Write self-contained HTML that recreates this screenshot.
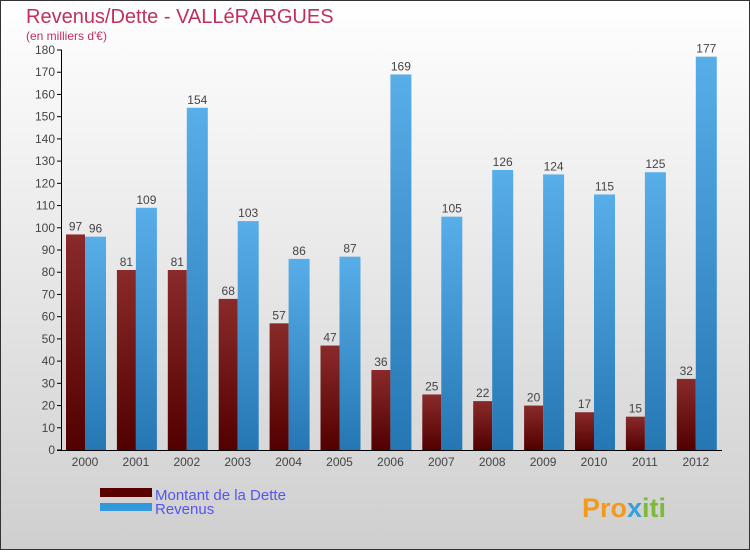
<!DOCTYPE html>
<html><head><meta charset="utf-8"><style>
html,body{margin:0;padding:0}
body{width:750px;height:550px;overflow:hidden;font-family:"Liberation Sans",sans-serif}
</style></head><body>
<svg width="750" height="550" xmlns="http://www.w3.org/2000/svg">
<defs>
<linearGradient id="bg" x1="0" y1="0" x2="0" y2="1"><stop offset="0" stop-color="#ffffff"/><stop offset="1" stop-color="#cfcfcf"/></linearGradient>
<linearGradient id="gd" x1="0" y1="0" x2="0" y2="1"><stop offset="0" stop-color="#8a2a2a"/><stop offset="1" stop-color="#520000"/></linearGradient>
<linearGradient id="gr" x1="0" y1="0" x2="0" y2="1"><stop offset="0" stop-color="#58aee8"/><stop offset="1" stop-color="#2577b4"/></linearGradient>
</defs>
<rect x="0.5" y="0.5" width="749" height="549" fill="url(#bg)" stroke="#333"/>
<text x="26" y="23" font-size="20" fill="#c0305a">Revenus/Dette - VALLéRARGUES</text>
<text x="26" y="40" font-size="12" fill="#c0305a">(en milliers d'€)</text>
<g id="plot"></g>
<rect x="100" y="488" width="52" height="9" fill="#5a0000"/>
<text x="155" y="500" font-size="15" fill="#5555ee">Montant de la Dette</text>
<rect x="100" y="503" width="52" height="8" fill="#3399dd"/>
<text x="155" y="514" font-size="15" fill="#5555ee">Revenus</text>
<text x="582" y="517" font-size="27" font-weight="bold" fill="#f39a1c">Pro<tspan fill="#3aa0d8">x</tspan><tspan fill="#7cba3a">iti</tspan></text>
</svg>
<script>
const years=["2000","2001","2002","2003","2004","2005","2006","2007","2008","2009","2010","2011","2012"];
const dette=[97,81,81,68,57,47,36,25,22,20,17,15,32];
const revenus=[96,109,154,103,86,87,169,105,126,124,115,125,177];
const yTicks=[0,10,20,30,40,50,60,70,80,90,100,110,120,130,140,150,160,170,180];
const NS="http://www.w3.org/2000/svg";
const g=document.getElementById('plot');
const y=v=>450-v*400/180;
const x=i=>85+i*50.9;
function mk(t,a,txt){const e=document.createElementNS(NS,t);for(const k in a)e.setAttribute(k,a[k]);if(txt!==undefined)e.textContent=txt;g.appendChild(e);return e;}
yTicks.forEach(t=>{
 const l=mk('line',{x1:57,x2:62,y1:y(t),y2:y(t),stroke:'#000'});
 
 
 const tx=mk('text',{x:55,y:y(t)+4,'font-size':12,'text-anchor':'end',fill:'#444'},t);
 
 
});
years.forEach((yr,i)=>{
 const c=x(i);
 const b1=mk('rect',{x:c-19,y:y(dette[i]),width:19,height:450-y(dette[i]),fill:'url(#gd)'});
 
 
 const b2=mk('rect',{x:c,y:y(revenus[i]),width:21,height:450-y(revenus[i]),fill:'url(#gr)'});
 
 
 const v1=mk('text',{x:c-9.5,y:y(dette[i])-4,'font-size':12,'text-anchor':'middle',fill:'#444'},dette[i]);
 
 
 const v2=mk('text',{x:c+10.5,y:y(revenus[i])-4,'font-size':12,'text-anchor':'middle',fill:'#444'},revenus[i]);
 
 
 const xl=mk('text',{x:c,y:466,'font-size':12,'text-anchor':'middle',fill:'#444'},yr);
 
 
});
const ax=mk('line',{x1:61.5,x2:61.5,y1:50,y2:450,stroke:'#000'});


const bx=mk('line',{x1:57,x2:722,y1:450.5,y2:450.5,stroke:'#000'});


</script>
</body></html>
